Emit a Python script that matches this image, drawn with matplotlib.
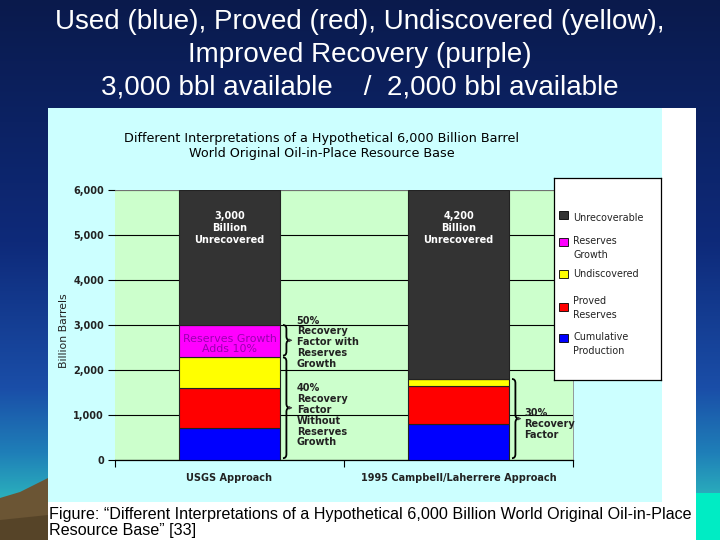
import matplotlib
matplotlib.use("Agg")
import matplotlib.pyplot as plt
import numpy as np
from matplotlib.path import Path
from matplotlib.patches import PathPatch, Rectangle, Polygon
from matplotlib.colors import LinearSegmentedColormap
from matplotlib import font_manager

# ---------------- data ----------------
approaches = ["USGS Approach", "1995 Campbell/Laherrere Approach"]
series_names = ["Cumulative Production", "Proved Reserves", "Undiscovered", "Reserves Growth", "Unrecoverable"]
cumulative = [720, 800]
proved = [880, 850]
undiscovered = [700, 150]
reserves_growth = [700, 0]
unrecoverable = [3000, 4200]
yticks = [0, 1000, 2000, 3000, 4000, 5000, 6000]

series_vals = [cumulative, proved, undiscovered, reserves_growth, unrecoverable]
series_colors = ["#0000ff", "#ff0000", "#ffff00", "#ff00ff", "#333333"]

avail = {f.name for f in font_manager.fontManager.ttflist}
narrow = "Liberation Sans Narrow" if "Liberation Sans Narrow" in avail else "Liberation Sans"

W, H = 720, 540
fig = plt.figure(figsize=(7.2, 5.4), dpi=100)

# ---------------- slide background ----------------
bg = fig.add_axes([0, 0, 1, 1])
bg.set_xlim(0, W)
bg.set_ylim(H, 0)
bg.axis("off")
cmap = LinearSegmentedColormap.from_list(
    "slide", [(0.0, "#0a1a4c"), (0.45, "#0e2a7a"), (0.72, "#1a4ea8"),
              (0.84, "#1f7fb8"), (0.92, "#2aaebc"), (1.0, "#2ab0b0")])
grad = np.linspace(0, 1, 256).reshape(-1, 1)
bg.imshow(grad, cmap=cmap, extent=[0, W, H, 0], aspect="auto", zorder=0)
# bottom-left brown hill
bg.add_patch(Polygon([[0, 498], [20, 492], [48, 478], [48, 540], [0, 540]],
                     closed=True, facecolor="#6b5534", edgecolor="none", zorder=1))
bg.add_patch(Polygon([[0, 520], [48, 515], [48, 540], [0, 540]],
                     closed=True, facecolor="#4e3d24", edgecolor="none", zorder=1, alpha=0.7))
# bottom-right teal
bg.add_patch(Rectangle((696, 493), 24, 47, facecolor="#00ecc4", edgecolor="none", zorder=1))
# embedded picture: white frame and cyan chart area
bg.add_patch(Rectangle((48, 108), 648, 432, facecolor="white", edgecolor="none", zorder=2))
bg.add_patch(Rectangle((48, 108), 614, 394, facecolor="#ccffff", edgecolor="none", zorder=3))

# slide title
for yy, line in zip([22, 55, 88], ["Used (blue), Proved (red), Undiscovered (yellow),",
                                   "Improved Recovery (purple)",
                                   "3,000 bbl available    /  2,000 bbl available"]):
    bg.text(360, yy, line, color="white", fontsize=20, family="Liberation Sans",
            ha="center", va="center", zorder=5)

# chart title
bg.text(322, 146, "Different Interpretations of a Hypothetical 6,000 Billion Barrel\n"
        "World Original Oil-in-Place Resource Base", color="black", fontsize=9.2,
        family="DejaVu Sans", ha="center", va="center", linespacing=1.2, zorder=5)

# caption
bg.text(49, 514, "Figure: \u201cDifferent Interpretations of a Hypothetical 6,000 Billion World Original Oil-in-Place",
        color="black", fontsize=11.6, family=narrow, ha="left", va="center", zorder=5)
bg.text(49, 531, "Resource Base\u201d [33]",
        color="black", fontsize=11.6, family=narrow, ha="left", va="center", zorder=5)

# y label
bg.text(64, 331, "Billion Barrels", rotation=90, color="#222222", fontsize=7.8,
        family="DejaVu Sans", ha="center", va="center", zorder=5)

# ---------------- chart axes ----------------
ax = fig.add_axes([115 / W, 1 - 460 / H, (573 - 115) / W, (460 - 190) / H])
ax.set_facecolor("#ccffcc")
x = np.arange(len(approaches))
bw = 0.437
bottom = np.zeros(len(approaches))
for vals, col in zip(series_vals, series_colors):
    ax.bar(x, vals, bw, bottom=bottom, color=col, edgecolor="#222222", linewidth=0.8, zorder=3)
    bottom += np.array(vals)

ax.set_xlim(-0.5, 1.5)
ax.set_ylim(0, 6000)
ax.set_yticks(yticks)
ax.set_yticklabels([f"{v:,}" for v in yticks], fontsize=7, color="#222222",
                   family="DejaVu Sans", fontweight="bold")
ax.yaxis.grid(True, color="black", linewidth=0.8, zorder=1)
ax.set_axisbelow(True)
ax.set_xticks([-0.5, 0.5, 1.5])
ax.set_xticklabels([])
ax.tick_params(axis="x", direction="out", length=5, width=0.8, color="black")
ax.tick_params(axis="y", direction="out", length=5, width=0.8, color="black", pad=3)
for s in ["top", "right"]:
    ax.spines[s].set_color("#888888")
    ax.spines[s].set_linewidth(0.6)
ax.spines["left"].set_visible(False)
ax.spines["bottom"].set_color("black")
ax.spines["bottom"].set_linewidth(0.9)

for xi, lab in zip(x, approaches):
    ax.text(xi, -0.065, lab, transform=ax.get_xaxis_transform(), ha="center", va="center",
            fontsize=7, family="DejaVu Sans", fontweight="bold", color="#222222")

# labels in bars
tops = np.array(cumulative) + np.array(proved) + np.array(undiscovered) + np.array(reserves_growth)
for xi, unrec in zip(x, unrecoverable):
    ax.text(xi, 5150, f"{unrec:,}\nBillion\nUnrecovered", ha="center", va="center",
            color="white", fontsize=7, family="DejaVu Sans", fontweight="bold",
            linespacing=1.25, zorder=5)

rg_bottom = cumulative[0] + proved[0] + undiscovered[0]
ax.text(x[0], rg_bottom + reserves_growth[0] * 0.4, "Reserves Growth\nAdds 10%", ha="center",
        va="center", color="#9a00b0", fontsize=7.9, family="DejaVu Sans",
        linespacing=1.0, zorder=5)


def brace(ax, x0, y0, y1, w=0.03, r=90, tip=0.012):
    xm = x0 + w / 2
    ym = (y0 + y1) / 2
    verts = [(x0, y1), (xm, y1), (xm, y1 - r), (xm, ym + r), (xm, ym), (x0 + w, ym),
             (x0 + w, ym), (xm, ym), (xm, ym - r), (xm, y0 + r), (xm, y0), (x0, y0)]
    codes = [Path.MOVETO, Path.CURVE3, Path.CURVE3, Path.LINETO, Path.CURVE3, Path.CURVE3,
             Path.MOVETO, Path.CURVE3, Path.CURVE3, Path.LINETO, Path.CURVE3, Path.CURVE3]
    ax.add_patch(PathPatch(Path(verts, codes), facecolor="none", edgecolor="black",
                           linewidth=1.3, zorder=6, clip_on=False))
    ax.annotate("", xy=(x0 + w + tip, ym), xytext=(x0 + w, ym),
                arrowprops=dict(arrowstyle="-|>", color="#444444", lw=0.6,
                                mutation_scale=5), zorder=6)


bx0 = x[0] + bw / 2 + 0.015
bx1 = x[1] + bw / 2 + 0.015
brace(ax, bx0, rg_bottom + 20, tops[0])
brace(ax, bx0, 40, rg_bottom - 20)
brace(ax, bx1, 40, tops[1])

ax.text(bx0 + 0.06, 2620, "50%\nRecovery\nFactor with\nReserves\nGrowth", ha="left", va="center",
        fontsize=7, family="DejaVu Sans", fontweight="bold", color="#222222",
        linespacing=1.1, zorder=6)
ax.text(bx0 + 0.06, 990, "40%\nRecovery\nFactor\nWithout\nReserves\nGrowth", ha="left", va="center",
        fontsize=7, family="DejaVu Sans", fontweight="bold", color="#222222",
        linespacing=1.1, zorder=6)
ax.text(bx1 + 0.055, 800, "30%\nRecovery\nFactor", ha="left", va="center",
        fontsize=7, family="DejaVu Sans", fontweight="bold", color="#222222",
        linespacing=1.1, zorder=6)

# ---------------- legend ----------------
lg = fig.add_axes([554 / W, 1 - 380 / H, 107 / W, 202 / H])
lg.set_xlim(0, 107)
lg.set_ylim(202, 0)
lg.set_xticks([])
lg.set_yticks([])
lg.set_facecolor("white")
for s in lg.spines.values():
    s.set_color("black")
    s.set_linewidth(0.9)
leg_labels = ["Unrecoverable", "Reserves\nGrowth", "Undiscovered", "Proved\nReserves",
              "Cumulative\nProduction"]
leg_cols = series_colors[::-1]
sq_y = [37, 64, 96, 129, 160]
tx_y = [40, 70, 96, 130, 166]
for lab, col, sy, ty in zip(leg_labels, leg_cols, sq_y, tx_y):
    lg.add_patch(Rectangle((5, sy - 4), 9, 8, facecolor=col, edgecolor="black", linewidth=0.6))
    lg.text(19, ty, lab, ha="left", va="center", fontsize=6.9, family="DejaVu Sans",
            color="#222222", linespacing=1.45)

fig.savefig("out.png", dpi=100)
